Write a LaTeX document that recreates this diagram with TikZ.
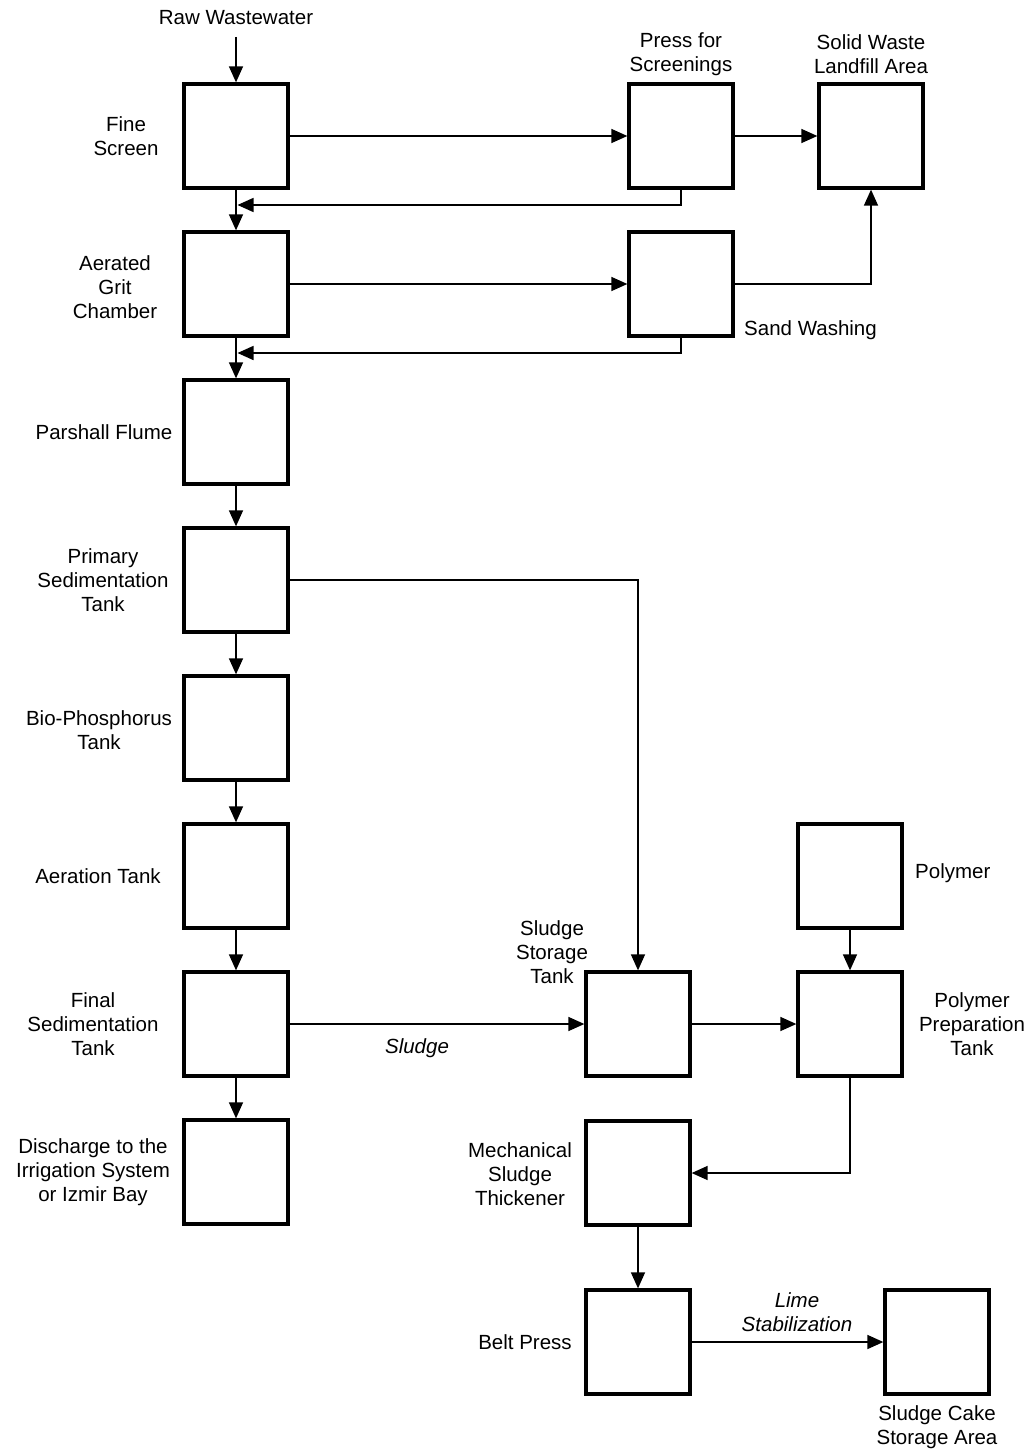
\documentclass[tikz,border=0pt]{standalone}
\usepackage{fontspec}
\setmainfont{Liberation Sans}
\usetikzlibrary{arrows.meta}
\begin{document}
\begin{tikzpicture}[x=1pt,y=-1pt,
  box/.style={draw=black, fill=white, line width=3.3pt, minimum size=104pt, inner sep=0pt},
  arr/.style={line width=1.5pt, -{Triangle[length=16pt,width=14pt]}},
  lbl/.style={align=center, inner sep=0pt, font=\fontsize{20.5}{24}\selectfont},
  ilbl/.style={lbl, font=\fontsize{20.5}{24}\selectfont\itshape}]
\useasboundingbox (0,0) rectangle (1031,1450);
\fill[white] (0,0) rectangle (1031,1450);
% main column
\node[box] (fs)  at (236,136) {};
\node[box] (gc)  at (236,284) {};
\node[box] (pf)  at (236,432) {};
\node[box] (ps)  at (236,580) {};
\node[box] (bio) at (236,728) {};
\node[box] (at)  at (236,876) {};
\node[box] (fst) at (236,1024) {};
\node[box] (dis) at (236,1172) {};
% right side
\node[box] (press) at (681,136) {};
\node[box] (land)  at (871,136) {};
\node[box] (sand)  at (681,284) {};
\node[box] (poly)  at (850,876) {};
\node[box] (sst)   at (638,1024) {};
\node[box] (ppt)   at (850,1024) {};
\node[box] (mst)   at (638,1173) {};
\node[box] (belt)  at (638,1342) {};
\node[box] (cake)  at (937,1342) {};
% labels
\node[lbl] (lraw) at (236,18) {Raw Wastewater};
\node[lbl] (lfs)  at (126,136) {Fine\\Screen};
\node[lbl] (lgc)  at (115,287) {Aerated\\Grit\\Chamber};
\node[lbl] (lpf)  at (104,432) {Parshall Flume};
\node[lbl] (lps)  at (103,580) {Primary\\Sedimentation\\Tank};
\node[lbl] (lbio) at (99,730) {Bio-Phosphorus\\Tank};
\node[lbl] (lat)  at (98,876) {Aeration Tank};
\node[lbl] (lfst) at (93,1024) {Final\\Sedimentation\\Tank};
\node[lbl] (ldis) at (93,1172) {Discharge to the\\Irrigation System\\or Izmir Bay};
\node[lbl] (lpress) at (681,54) {Press for\\Screenings};
\node[lbl] (lland)  at (871,54) {Solid Waste\\Landfill Area};
\node[lbl, anchor=west] (lsand) at (744,330) {Sand Washing};
\node[lbl, anchor=west] (lpoly) at (915,873) {Polymer};
\node[lbl] (lppt) at (972,1024) {Polymer\\Preparation\\Tank};
\node[lbl] (lsst) at (552,952) {Sludge\\Storage\\Tank};
\node[lbl] (lmst) at (520,1174) {Mechanical\\Sludge\\Thickener};
\node[lbl] (lbelt) at (525,1342) {Belt Press};
\node[lbl] (lcake) at (937,1427) {Sludge Cake\\Storage Area};
\node[ilbl] (lsludge) at (417,1048) {Sludge};
\node[ilbl] (llime) at (797,1312) {Lime\\Stabilization};
% helper coordinates
\coordinate (rawend) at (236,37);
\coordinate (j1) at (237.5,205);
\coordinate (j2) at (237.5,353);
% connectors
\draw[arr] (rawend) -- (fs.north);
\draw[arr] (fs.east) -- (press.west);
\draw[arr] (press.east) -- (land.west);
\draw[arr] (press.south) |- (j1);
\draw[arr] (fs) -- (gc);
\draw[arr] (gc.east) -- (sand.west);
\draw[arr] (sand.east) -| (land.south);
\draw[arr] (sand.south) |- (j2);
\draw[arr] (gc) -- (pf);
\draw[arr] (pf) -- (ps);
\draw[arr] (ps) -- (bio);
\draw[arr] (bio) -- (at);
\draw[arr] (at) -- (fst);
\draw[arr] (fst) -- (dis);
\draw[arr] (ps.east) -| (sst.north);
\draw[arr] (fst.east) -- (sst.west);
\draw[arr] (sst.east) -- (ppt.west);
\draw[arr] (poly) -- (ppt);
\draw[arr] (ppt.south) |- (mst.east);
\draw[arr] (mst) -- (belt);
\draw[arr] (belt.east) -- (cake.west);
\end{tikzpicture}
\end{document}
